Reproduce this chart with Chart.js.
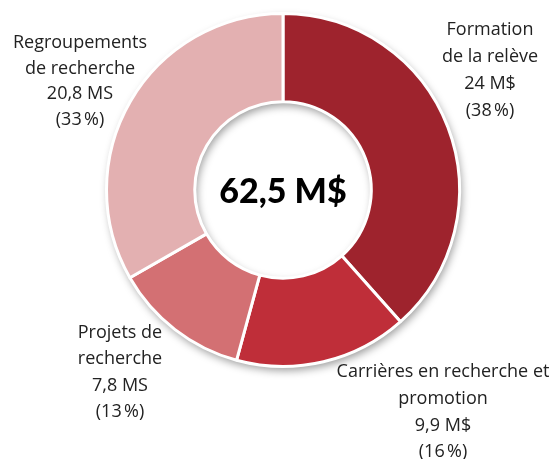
<!DOCTYPE html>
<html>
<head>
<meta charset="utf-8">
<script src="https://cdn.jsdelivr.net/npm/chart.js@4/dist/chart.umd.min.js"></script>
<style>
html,body{margin:0;padding:0;background:#fff;}
#wrap{width:553px;height:459px;}
</style>
</head>
<body>
<div id="wrap"><canvas id="c" width="553" height="459"></canvas></div>
<script>
const categories = ["Formation de la relève", "Carrières en recherche et promotion", "Projets de recherche", "Regroupements de recherche"];
const values = [24, 9.9, 7.8, 20.8];
const colors = ["#9E232D", "#BF2E39", "#D37073", "#E3B0B1"];
const labelLines = [
  ["Formation", "de la relève", "24 M$", "(38\u202F%)"],
  ["Carrières en recherche et", "promotion", "9,9 M$", "(16\u202F%)"],
  ["Projets de", "recherche", "7,8 MS", "(13\u202F%)"],
  ["Regroupements", "de recherche", "20,8 MS", "(33\u202F%)"]
];
const centerText = "62,5 M$";

// label anchor positions (text placement only)
const labelPos = [
  {x: 490, y: 30, step: 27},
  {x: 443, y: 372, step: 26.7},
  {x: 120, y: 333, step: 26.3},
  {x: 80, y: 43, step: 25.5}
];

const ringShadow = {
  id: 'ringShadow',
  beforeDatasetsDraw(chart) {
    const arc = chart.getDatasetMeta(0).data[0];
    if (!arc) return;
    const {x, y, outerRadius, innerRadius} = arc.getProps(['x','y','outerRadius','innerRadius'], true);
    const ctx = chart.ctx;
    ctx.save();
    ctx.beginPath();
    ctx.arc(x, y, outerRadius, 0, Math.PI * 2);
    ctx.arc(x, y, innerRadius, 0, Math.PI * 2, true);
    ctx.closePath();
    ctx.shadowColor = 'rgba(0,0,0,0.4)';
    ctx.shadowBlur = 9;
    ctx.shadowOffsetX = 2;
    ctx.shadowOffsetY = 4;
    ctx.fillStyle = '#fff';
    ctx.fill();
    ctx.restore();
  },
  afterDatasetsDraw(chart) {
    const arc = chart.getDatasetMeta(0).data[0];
    const {x, y} = arc.getProps(['x','y'], true);
    const ctx = chart.ctx;
    ctx.save();
    ctx.fillStyle = '#000';
    ctx.font = '900 34px Lato';
    ctx.textAlign = 'center';
    ctx.textBaseline = 'middle';
    ctx.fillText(centerText, x, y + 2);
    ctx.font = '18px "Open Sans"';
    ctx.fillStyle = '#222';
    labelLines.forEach((lines, i) => {
      const p = labelPos[i];
      lines.forEach((t, j) => ctx.fillText(t, p.x, p.y + j * p.step));
    });
    ctx.restore();
  }
};

new Chart(document.getElementById('c'), {
  type: 'doughnut',
  data: {
    labels: categories,
    datasets: [{
      data: values,
      backgroundColor: colors,
      borderColor: '#fff',
      borderWidth: 3,
      hoverOffset: 0
    }]
  },
  options: {
    responsive: false,
    animation: false,
    cutout: '50%',
    layout: {padding: {left: 105, right: 92, top: 12, bottom: 91}},
    plugins: {legend: {display: false}, tooltip: {enabled: false}}
  },
  plugins: [ringShadow]
});
</script>
</body>
</html>
